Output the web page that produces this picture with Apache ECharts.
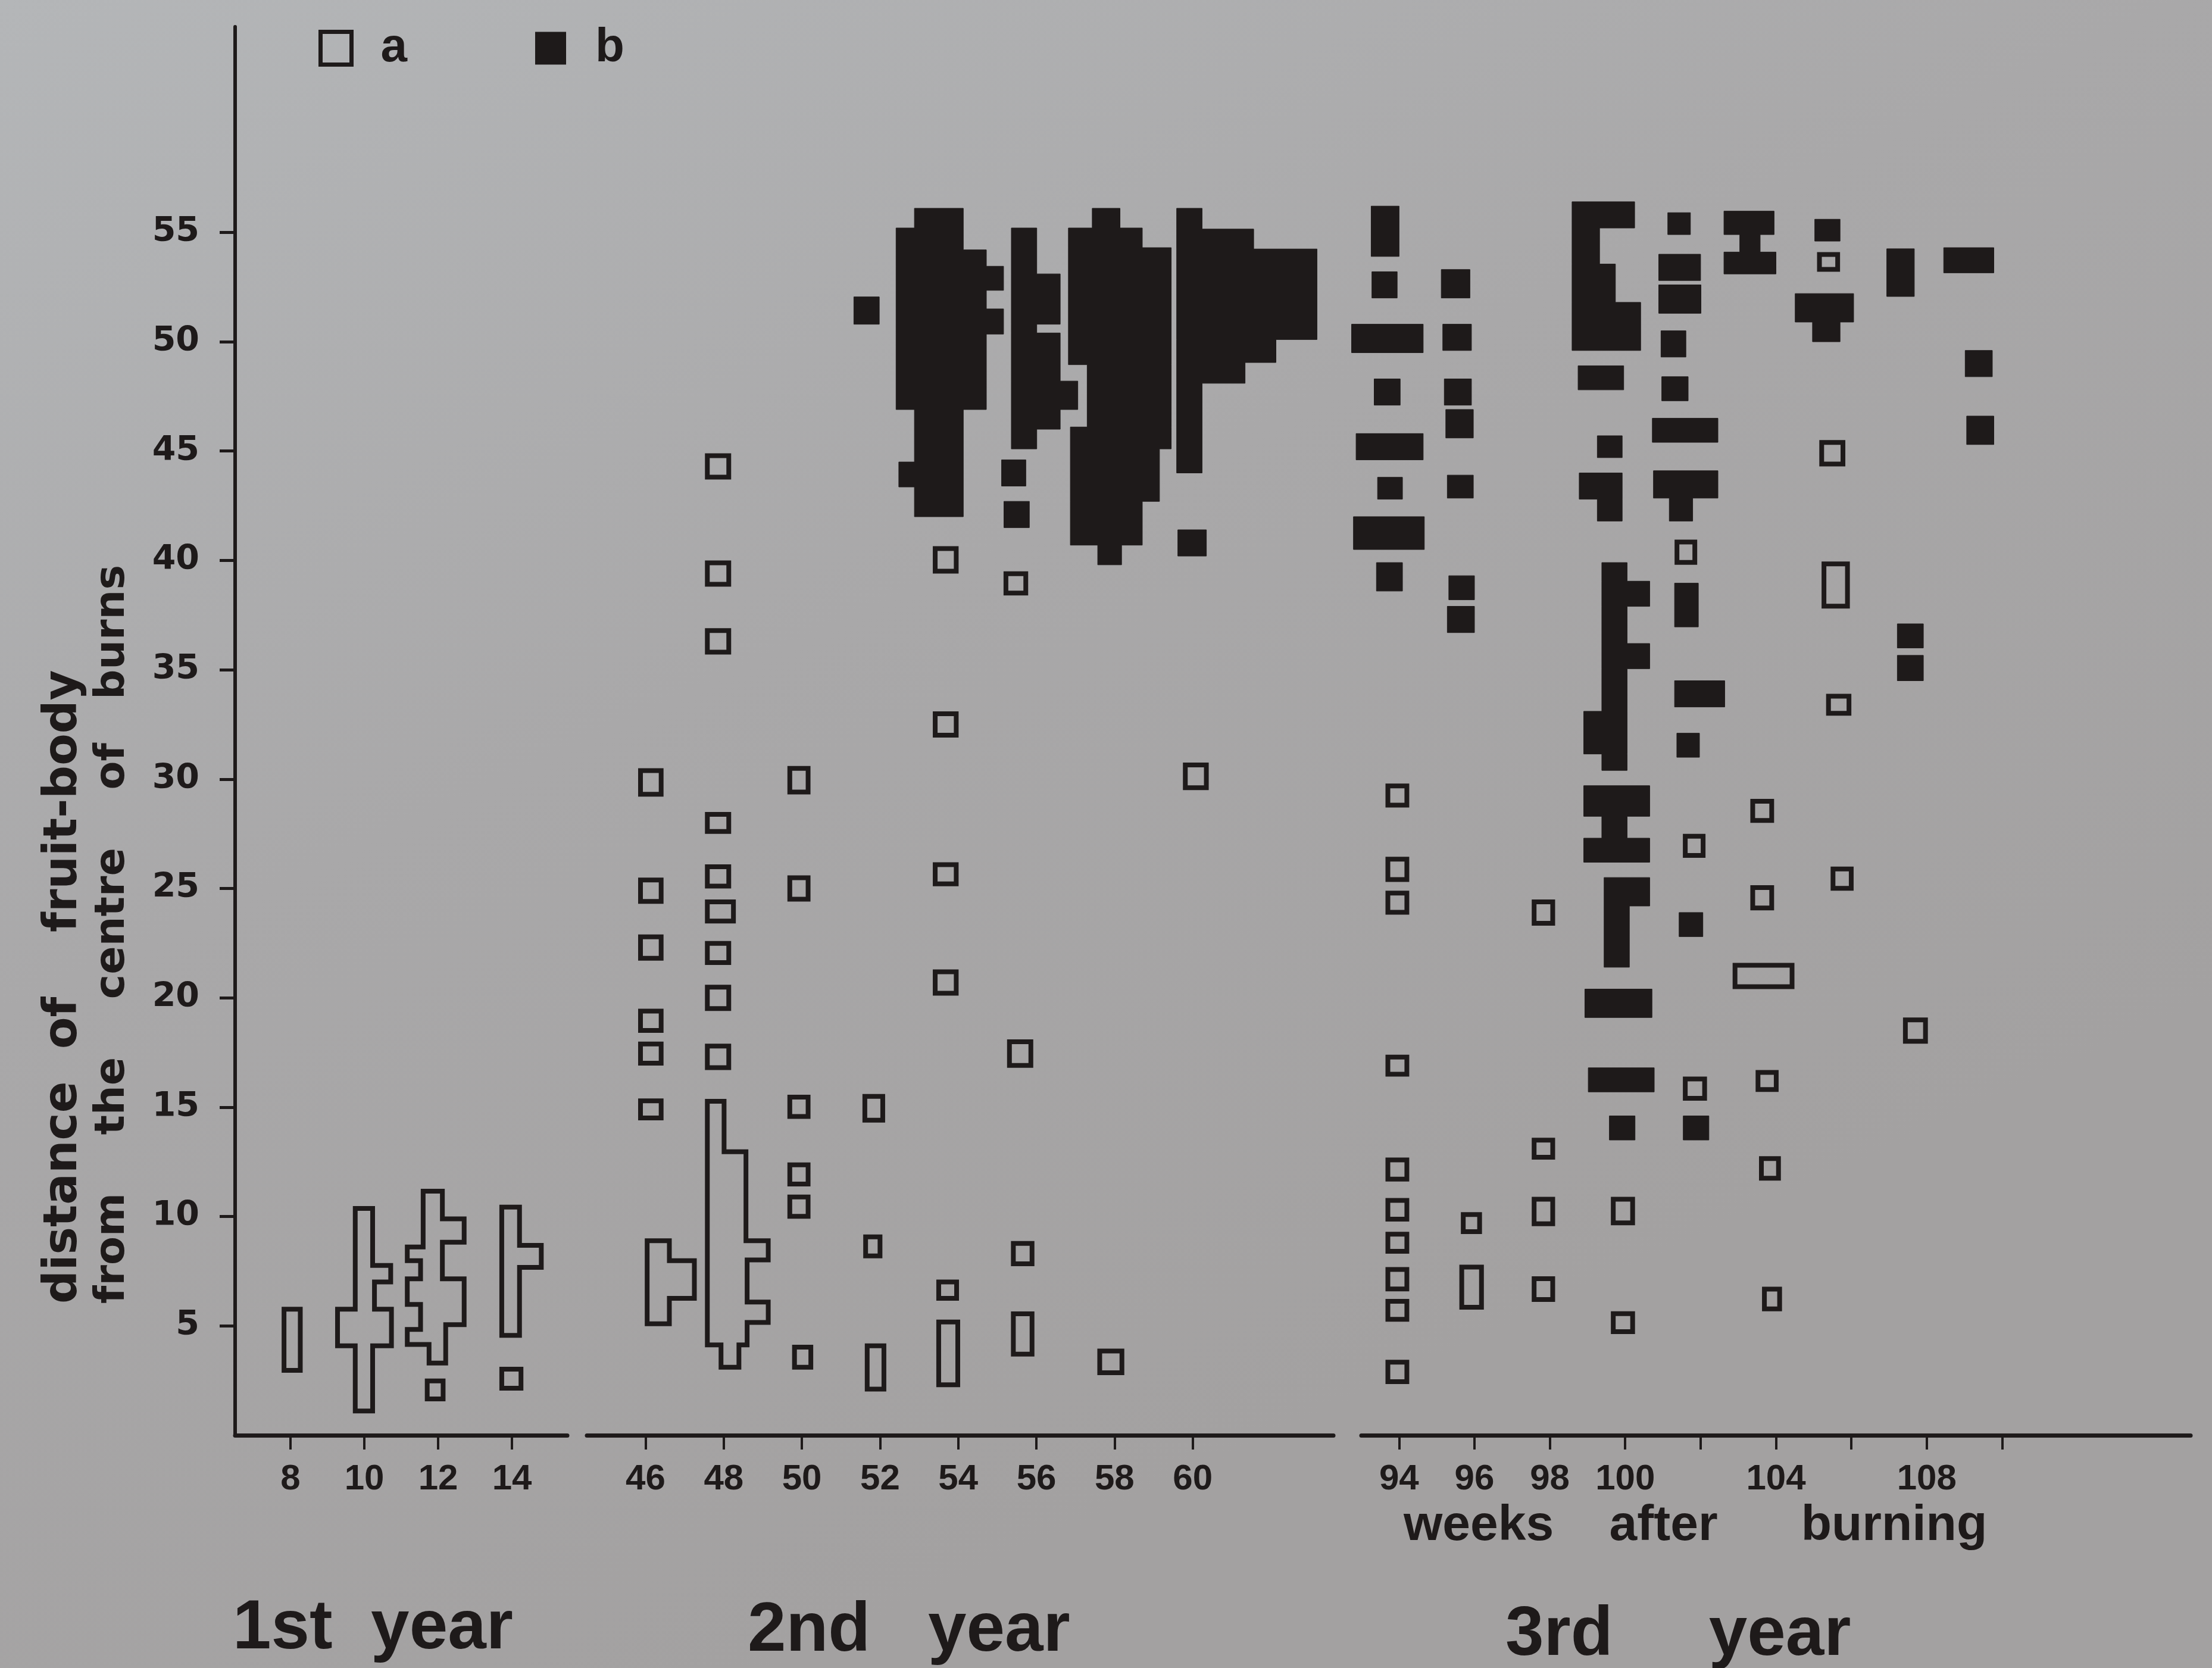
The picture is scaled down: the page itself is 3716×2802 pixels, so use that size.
<!DOCTYPE html>
<html>
<head>
<meta charset="utf-8">
<script src="https://cdn.jsdelivr.net/npm/echarts@6/dist/echarts.min.js"></script>
<style>
html,body{margin:0;padding:0;background:#a9a9aa;}
#chart{width:3716px;height:2802px;}
</style>
</head>
<body>
<div id="chart"></div>
<script>
// ---------------- DATA (weeks after burning, distance of fruit-body) ----------------
// Each mark: [week, distFrom, distTo, leftExtent, rightExtent]  (extents in weeks around the week)
// or a stepped spindle: [week, [[distFrom, distTo, leftExtent, rightExtent], ...]]

const yearLabels = ['1st  year', '2nd   year', '3rd     year'];
const xTicks1 = [8, 10, 12, 14];
const xTicks2 = [46, 48, 50, 52, 54, 56, 58, 60];
const xTicks3 = [94, 96, 98, 100, 102, 104, 106, 108, 110];
const xLabels3 = [94, 96, 98, 100, 104, 108];
const yTicks = [5, 10, 15, 20, 25, 30, 35, 40, 45, 50, 55];
const seriesNames = ['a', 'b'];

// ---- 1st year, type a (open) ----
const year1Open = [
  [8, 2.86, 5.87, -0.24, 0.33],
  [10, [[1.0, 3.98, -0.31, 0.29], [3.98, 5.87, -0.79, 0.80], [5.87, 6.90, -0.31, 0.34], [6.90, 7.87, -0.31, 0.78], [7.87, 10.48, -0.31, 0.29]]],
  [12, [[3.19, 4.04, -0.31, 0.27], [4.04, 4.95, -0.90, 0.27], [4.95, 5.87, -0.54, 0.77], [5.87, 7.26, -0.90, 0.77], [7.26, 7.87, -0.54, 0.18], [7.87, 8.72, -0.90, 0.18], [8.72, 10.0, -0.47, 0.77], [10.0, 11.27, -0.47, 0.18]]],
  [12, 1.55, 2.59, -0.36, 0.20],
  [14, [[4.46, 7.57, -0.34, 0.27], [7.57, 8.79, -0.34, 0.86], [8.79, 10.54, -0.34, 0.27]]],
  [14, 2.04, 3.13, -0.34, 0.31]
];

// ---- 2nd year, type a (open) ----
const year2Open = [
  [46, 29.2, 30.5, -0.19, 0.46],
  [46, 24.3, 25.5, -0.19, 0.46],
  [46, 21.7, 22.9, -0.19, 0.46],
  [46, 18.4, 19.5, -0.19, 0.46],
  [46, 16.9, 18.0, -0.19, 0.46],
  [46, 14.4, 15.4, -0.19, 0.46],
  [46, [[4.99, 6.15, -0.02, 0.67], [6.15, 8.09, -0.02, 1.31], [8.09, 9.0, -0.02, 0.67]]],
  [48, 43.7, 44.9, -0.48, 0.19],
  [48, 38.8, 40.0, -0.48, 0.19],
  [48, 35.7, 36.9, -0.48, 0.19],
  [48, 27.5, 28.5, -0.48, 0.19],
  [48, 25.0, 26.1, -0.48, 0.19],
  [48, 23.4, 24.5, -0.48, 0.31],
  [48, 21.5, 22.6, -0.48, 0.19],
  [48, 19.4, 20.6, -0.48, 0.19],
  [48, 16.7, 17.9, -0.48, 0.19],
  [48, [[3.0, 4.02, -0.13, 0.45], [4.02, 5.05, -0.48, 0.66], [5.05, 6.2, -0.48, 1.2], [6.2, 7.91, -0.48, 0.66], [7.91, 9.0, -0.48, 1.2], [9.0, 13.07, -0.48, 0.63], [13.07, 15.38, -0.48, 0.07]]],
  [50, 29.3, 30.6, -0.37, 0.22],
  [50, 24.4, 25.6, -0.37, 0.22],
  [50, 14.47, 15.57, -0.37, 0.22],
  [50, 11.38, 12.47, -0.37, 0.22],
  [50, 9.9, 11.0, -0.37, 0.22],
  [50, 3.0, 4.14, -0.25, 0.29],
  [52, 14.3, 15.6, -0.45, 0.13],
  [52, 8.09, 9.18, -0.43, 0.06],
  [52, 2.0, 4.2, -0.39, 0.16],
  [54, 39.4, 40.65, -0.65, 0.01],
  [54, 31.9, 33.1, -0.65, 0.01],
  [54, 25.1, 26.2, -0.65, 0.01],
  [54, 20.1, 21.3, -0.65, 0.01],
  [54, 6.15, 7.12, -0.56, 0.02],
  [54, 2.2, 5.29, -0.56, 0.05],
  [56, 38.4, 39.5, -0.84, -0.21],
  [56, 16.8, 18.1, -0.75, -0.08],
  [56, 7.73, 8.88, -0.65, -0.05],
  [56, 3.6, 5.66, -0.65, -0.05],
  [58, 2.75, 3.96, -0.44, 0.25],
  [60, 29.5, 30.76, -0.25, 0.41]
];

// ---- 2nd year, type b (filled) ----
const year2Filled = [
  [52, 50.8, 52.05, -0.67, -0.02],
  [54, [[42.0, 43.36, -1.12, 0.13], [43.36, 44.5, -1.52, 0.13], [44.5, 46.9, -1.12, 0.13], [46.9, 50.35, -1.59, 0.72], [50.35, 51.5, -1.59, 1.16], [51.5, 52.35, -1.59, 0.72], [52.35, 53.45, -1.59, 1.16], [53.45, 54.2, -1.59, 0.72], [54.2, 55.2, -1.59, 0.13], [55.2, 56.1, -1.12, 0.13]]],
  [56, 43.4, 44.6, -0.89, -0.27],
  [56, 41.5, 42.7, -0.83, -0.18],
  [56, [[45.1, 46.0, -0.64, 0.01], [46.0, 46.9, -0.64, 0.61], [46.9, 48.2, -0.64, 1.06], [48.2, 50.4, -0.64, 0.61], [50.4, 50.8, -0.64, 0.01], [50.8, 53.1, -0.64, 0.61], [53.1, 55.2, -0.64, 0.01]]],
  [58, [[39.8, 40.7, -0.43, 0.18], [40.7, 42.7, -1.13, 0.71], [42.7, 45.1, -1.13, 1.15], [45.1, 46.1, -1.13, 1.45], [46.1, 48.95, -0.70, 1.45], [48.95, 54.3, -1.18, 1.45], [54.3, 55.2, -1.18, 0.71], [55.2, 56.1, -0.57, 0.14]]],
  [60, 40.2, 41.4, -0.38, 0.35],
  [60, [[44.0, 48.1, -0.41, 0.24], [48.1, 49.05, -0.41, 1.34], [49.05, 50.1, -0.41, 2.13], [50.1, 54.24, -0.41, 3.18], [54.24, 55.15, -0.41, 1.56], [55.15, 56.1, -0.41, 0.24]]]
];

// ---- 3rd year, type a (open) ----
const year3Open = [
  [94, 28.7, 29.8, -0.36, 0.27],
  [94, 25.3, 26.45, -0.36, 0.27],
  [94, 23.8, 24.9, -0.36, 0.27],
  [94, 16.4, 17.4, -0.36, 0.27],
  [94, 11.6, 12.7, -0.36, 0.27],
  [94, 9.77, 10.85, -0.36, 0.27],
  [94, 8.3, 9.3, -0.36, 0.27],
  [94, 6.58, 7.69, -0.36, 0.27],
  [94, 5.19, 6.23, -0.36, 0.27],
  [94, 2.34, 3.45, -0.36, 0.27],
  [96, 9.2, 10.2, -0.36, 0.2],
  [96, 5.74, 7.8, -0.4, 0.25],
  [98, 23.3, 24.5, -0.48, 0.14],
  [98, 12.6, 13.6, -0.48, 0.14],
  [98, 9.56, 10.9, -0.48, 0.14],
  [98, 6.1, 7.27, -0.48, 0.14],
  [100, 9.6, 10.9, -0.38, 0.26],
  [100, 4.63, 5.67, -0.38, 0.26],
  [102, 39.8, 40.95, -0.69, -0.09],
  [102, 26.4, 27.5, -0.47, 0.13],
  [102, 15.3, 16.4, -0.47, 0.17],
  [104, 28.0, 29.1, -0.68, -0.05],
  [104, 24.0, 25.15, -0.68, -0.05],
  [104, 20.4, 21.6, -1.15, 0.49],
  [104, 15.7, 16.7, -0.54, 0.07],
  [104, 11.64, 12.76, -0.45, 0.13],
  [104, 5.67, 6.79, -0.37, 0.16],
  [106, 53.2, 54.1, -0.91, -0.3],
  [106, 44.3, 45.5, -0.85, -0.16],
  [106, 37.8, 39.95, -0.79, -0.04],
  [106, 32.9, 33.9, -0.67, 0.0],
  [106, 24.9, 26.0, -0.55, 0.06],
  [108, 17.9, 19.1, -0.63, 0.03]
];

// ---- 3rd year, type b (filled) ----
const year3Filled = [
  [94, 53.9, 56.2, -0.74, 0.0],
  [94, 52.0, 53.2, -0.72, -0.05],
  [94, 49.5, 50.8, -1.26, 0.64],
  [94, 47.1, 48.3, -0.66, 0.03],
  [94, 44.6, 45.8, -1.14, 0.64],
  [94, 42.8, 43.8, -0.57, 0.09],
  [94, 40.5, 42.0, -1.21, 0.67],
  [94, 38.6, 39.9, -0.6, 0.09],
  [96, 52.0, 53.3, -0.88, -0.12],
  [96, 49.6, 50.8, -0.84, -0.08],
  [96, 47.1, 48.3, -0.8, -0.08],
  [96, 45.6, 46.9, -0.76, -0.03],
  [96, 42.85, 43.9, -0.72, -0.03],
  [96, 38.2, 39.3, -0.68, 0.0],
  [96, 36.7, 37.9, -0.72, 0.0],
  [100, [[49.6, 51.8, -1.41, 0.41], [51.8, 53.55, -1.41, -0.26], [53.55, 55.2, -1.41, -0.68], [55.2, 56.4, -1.41, 0.25]]],
  [100, 47.8, 48.9, -1.25, -0.04],
  [100, 44.7, 45.7, -0.74, -0.08],
  [100, [[41.8, 42.8, -0.74, -0.08], [42.8, 44.0, -1.22, -0.08]]],
  [100, [[30.4, 31.15, -0.62, 0.05], [31.15, 33.1, -1.1, 0.05], [33.1, 35.05, -0.62, 0.05], [35.05, 36.2, -0.62, 0.65], [36.2, 37.9, -0.62, 0.05], [37.9, 39.05, -0.62, 0.65], [39.05, 39.9, -0.62, 0.05]]],
  [100, [[26.2, 27.3, -1.1, 0.65], [27.3, 28.3, -0.62, 0.05], [28.3, 29.7, -1.1, 0.65]]],
  [100, [[21.4, 24.2, -0.56, 0.11], [24.2, 25.5, -0.56, 0.65]]],
  [100, 19.1, 20.4, -1.07, 0.71],
  [100, 15.7, 16.8, -0.98, 0.77],
  [100, 13.5, 14.6, -0.42, 0.26],
  [102, 54.9, 55.9, -0.87, -0.27],
  [102, 52.8, 54.0, -1.11, 0.0],
  [102, 51.3, 52.6, -1.11, 0.01],
  [102, 49.3, 50.5, -1.05, -0.39],
  [102, 47.3, 48.4, -1.03, -0.33],
  [102, 45.4, 46.5, -1.28, 0.46],
  [102, [[41.8, 42.85, -0.83, -0.21], [42.85, 44.1, -1.25, 0.46]]],
  [102, 36.96, 38.96, -0.69, -0.06],
  [102, 33.3, 34.5, -0.69, 0.64],
  [102, 31.0, 32.1, -0.63, -0.03],
  [102, 22.8, 23.9, -0.57, 0.06],
  [102, 13.5, 14.6, -0.46, 0.22],
  [104, [[53.1, 54.1, -1.38, 0.0], [54.1, 54.9, -0.96, -0.42], [54.9, 55.97, -1.38, -0.05]]],
  [106, 54.6, 55.6, -0.97, -0.3],
  [106, [[50.0, 50.9, -1.03, -0.3], [50.9, 52.2, -1.49, 0.06]]],
  [108, 52.07, 54.25, -1.06, -0.33],
  [108, 36.0, 37.1, -0.78, -0.09],
  [108, 34.5, 35.66, -0.78, -0.09],
  [110, 53.15, 54.3, -1.55, -0.22],
  [110, 48.4, 49.6, -0.98, -0.26],
  [110, 45.3, 46.6, -0.94, -0.22]
];

// ---------------- RENDERING ----------------
const INK = '#1e1a1a';
const STROKE = 8;

function rowsOf(s) {
  return typeof s[1] === 'number' ? [[s[1], s[2], s[3], s[4]]] : s[1];
}

function sideOffset(lowerWider, equal, h) {
  if (equal) return 0;
  return lowerWider ? h : -h;
}

function shapeSeries(name, list, idx, filled) {
  return {
    type: 'custom',
    name: name,
    xAxisIndex: idx,
    yAxisIndex: idx,
    silent: true,
    animation: false,
    itemStyle: { color: filled ? INK : 'rgba(0,0,0,0)', borderColor: INK },
    data: list.map(function (s) { return [s[0], rowsOf(s)[0][0]]; }),
    renderItem: function (params, api) {
      const s = list[params.dataIndex];
      const wk = s[0];
      const rows = rowsOf(s).slice().sort(function (a, b) { return a[0] - b[0]; });
      const h = filled ? 0 : STROKE / 2;
      const P = rows.map(function (r) {
        const a = api.coord([wk + r[2], r[0]]);
        const b = api.coord([wk + r[3], r[1]]);
        return { xl: a[0], xr: b[0], ylo: a[1], yhi: b[1] };
      });
      const n = P.length;
      const pts = [];
      // right side, going upward
      for (let i = 0; i < n; i++) {
        const p = P[i];
        const x = p.xr - h;
        let y0, y1;
        if (i === 0) y0 = p.ylo - h;
        else { const q = P[i - 1]; y0 = p.ylo + sideOffset(q.xr > p.xr, Math.abs(q.xr - p.xr) < 0.5, h); }
        if (i === n - 1) y1 = p.yhi + h;
        else { const q = P[i + 1]; y1 = p.yhi + sideOffset(p.xr > q.xr, Math.abs(q.xr - p.xr) < 0.5, h); }
        pts.push([x, y0], [x, y1]);
      }
      // left side, going downward
      for (let i = n - 1; i >= 0; i--) {
        const p = P[i];
        const x = p.xl + h;
        let yt, yb;
        if (i === n - 1) yt = p.yhi + h;
        else { const q = P[i + 1]; yt = p.yhi + sideOffset(p.xl < q.xl, Math.abs(q.xl - p.xl) < 0.5, h); }
        if (i === 0) yb = p.ylo - h;
        else { const q = P[i - 1]; yb = p.ylo + sideOffset(q.xl < p.xl, Math.abs(q.xl - p.xl) < 0.5, h); }
        pts.push([x, yt], [x, yb]);
      }
      return {
        type: 'polygon',
        shape: { points: pts },
        style: filled
          ? { fill: INK, stroke: INK, lineWidth: 1 }
          : { fill: 'none', stroke: INK, lineWidth: STROKE, lineJoin: 'miter' }
      };
    }
  };
}

const GRID_TOP = 45, GRID_H = 2366;
const yMax = 64.4;

function xAxisCfg(gi, min, max, ticks, labels) {
  return {
    gridIndex: gi, type: 'value', min: min, max: max,
    axisLine: { show: true, onZero: false, lineStyle: { color: INK, width: 7 } },
    axisTick: { show: true, customValues: ticks, length: 24, lineStyle: { color: INK, width: 4 } },
    axisLabel: { show: true, customValues: labels, margin: 44, color: INK,
      fontFamily: 'Liberation Sans', fontWeight: 'bold', fontSize: 60 },
    splitLine: { show: false }
  };
}
function yAxisCfg(gi, show) {
  return {
    gridIndex: gi, type: 'value', min: 0, max: yMax, show: show,
    axisLine: { show: show, lineStyle: { color: INK, width: 6 } },
    axisTick: { show: show, customValues: yTicks, length: 26, lineStyle: { color: INK, width: 5 } },
    axisLabel: { show: show, customValues: yTicks, margin: 60, color: INK,
      fontFamily: 'DejaVu Sans', fontWeight: 'bold', fontSize: 57 },
    splitLine: { show: false }
  };
}

const chart = echarts.init(document.getElementById('chart'), null, { renderer: 'canvas', width: 3716, height: 2802 });

const txt = function (text, x, y, size, family, rot) {
  return {
    type: 'text', x: x, y: y, rotation: rot || 0, silent: true,
    style: { text: text, fill: INK, fontSize: size, fontFamily: family, fontWeight: 'bold',
      align: 'left', verticalAlign: 'middle' }
  };
};

chart.setOption({
  animation: false,
  backgroundColor: {
    type: 'linear', x: 0, y: 0, x2: 0.35, y2: 1,
    colorStops: [{ offset: 0, color: '#b4b6b8' }, { offset: 0.5, color: '#a9a8a9' }, { offset: 1, color: '#a3a1a1' }]
  },
  grid: [
    { left: 395, top: GRID_TOP, width: 558, height: GRID_H },
    { left: 986, top: GRID_TOP, width: 1254, height: GRID_H },
    { left: 2287, top: GRID_TOP, width: 1393, height: GRID_H }
  ],
  xAxis: [
    xAxisCfg(0, 6.5, 15.5, xTicks1, xTicks1),
    xAxisCfg(1, 44.5, 63.6, xTicks2, xTicks2),
    xAxisCfg(2, 93, 115, xTicks3, xLabels3)
  ],
  yAxis: [yAxisCfg(0, true), yAxisCfg(1, false), yAxisCfg(2, false)],
  legend: {
    left: 530, top: 36, itemWidth: 52, itemHeight: 55, itemGap: 215, selectedMode: false,
    textStyle: { fontFamily: 'Liberation Sans', fontWeight: 'bold', fontSize: 80, color: INK, padding: [0, 0, 0, 44] },
    data: [
      { name: seriesNames[0], icon: 'rect', itemStyle: { color: 'rgba(0,0,0,0)', borderColor: INK, borderWidth: 7 } },
      { name: seriesNames[1], icon: 'rect', itemStyle: { color: INK, borderWidth: 0 } }
    ]
  },
  graphic: [
    txt('distance  of    fruit-body', 108, 2190, 78, 'DejaVu Sans', Math.PI / 2),
    txt('from    the    centre    of   burns', 190, 2190, 70, 'DejaVu Sans', Math.PI / 2),
    txt('weeks    after      burning', 2358, 2564, 84, 'Liberation Sans'),
    txt(yearLabels[0], 391, 2737, 116, 'Liberation Sans'),
    txt(yearLabels[1], 1256, 2741, 116, 'Liberation Sans'),
    txt(yearLabels[2], 2529, 2748, 116, 'Liberation Sans')
  ],
  series: [
    shapeSeries(seriesNames[0], year1Open, 0, false),
    shapeSeries(seriesNames[0], year2Open, 1, false),
    shapeSeries(seriesNames[1], year2Filled, 1, true),
    shapeSeries(seriesNames[0], year3Open, 2, false),
    shapeSeries(seriesNames[1], year3Filled, 2, true)
  ]
});
</script>
</body>
</html>
